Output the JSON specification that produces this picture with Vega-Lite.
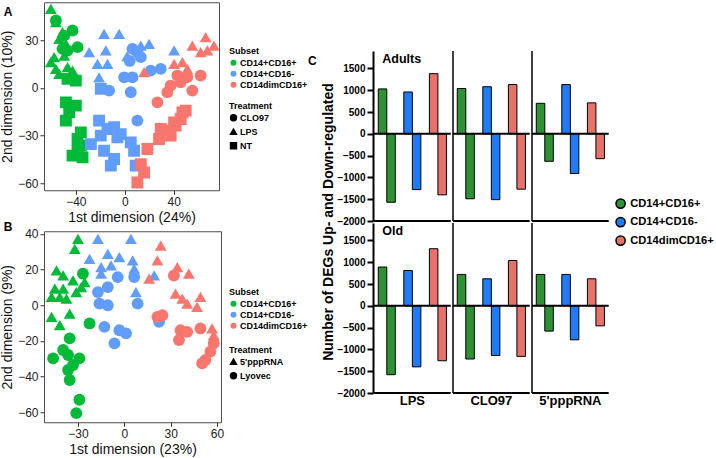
{
 "$schema": "https://vega.github.io/schema/vega-lite/v6.json",
 "padding": {"left": 0, "top": 1, "right": 0, "bottom": 0},
 "background": "white",
 "center": true,
 "spacing": -2,
 "resolve": {"scale": {"color": "independent", "shape": "independent"}},
 "datasets": {
  "pcaA": [
   {"x":-60.4,"y":49.9,"subset":"CD14+CD16+","treatment":"LPS"},{"x":-56.3,"y":41.5,"subset":"CD14+CD16+","treatment":"LPS"},{"x":-50.9,"y":35.2,"subset":"CD14+CD16+","treatment":"LPS"},{"x":-53.6,"y":30.9,"subset":"CD14+CD16+","treatment":"LPS"},{"x":-48.1,"y":27.8,"subset":"CD14+CD16+","treatment":"LPS"},{"x":-57.7,"y":19.4,"subset":"CD14+CD16+","treatment":"LPS"},{"x":-49.5,"y":20.4,"subset":"CD14+CD16+","treatment":"LPS"},{"x":-56.3,"y":12.0,"subset":"CD14+CD16+","treatment":"LPS"},{"x":-46.8,"y":13.1,"subset":"CD14+CD16+","treatment":"LPS"},{"x":-53.6,"y":8.8,"subset":"CD14+CD16+","treatment":"LPS"},{"x":-42.7,"y":10.9,"subset":"CD14+CD16+","treatment":"LPS"},{"x":-60.4,"y":16.2,"subset":"CD14+CD16+","treatment":"LPS"},
   {"x":-56.3,"y":42.5,"subset":"CD14+CD16+","treatment":"CLO97"},{"x":-42.7,"y":36.2,"subset":"CD14+CD16+","treatment":"CLO97"},{"x":-49.5,"y":33.0,"subset":"CD14+CD16+","treatment":"CLO97"},{"x":-38.6,"y":25.7,"subset":"CD14+CD16+","treatment":"CLO97"},{"x":-46.8,"y":23.6,"subset":"CD14+CD16+","treatment":"CLO97"},{"x":-50.9,"y":24.6,"subset":"CD14+CD16+","treatment":"CLO97"},
   {"x":-40.0,"y":4.6,"subset":"CD14+CD16+","treatment":"NT"},{"x":-46.8,"y":5.7,"subset":"CD14+CD16+","treatment":"NT"},{"x":-48.1,"y":-9.1,"subset":"CD14+CD16+","treatment":"NT"},{"x":-40.0,"y":-11.2,"subset":"CD14+CD16+","treatment":"NT"},{"x":-45.4,"y":-15.4,"subset":"CD14+CD16+","treatment":"NT"},{"x":-48.1,"y":-20.6,"subset":"CD14+CD16+","treatment":"NT"},{"x":-35.9,"y":-28.0,"subset":"CD14+CD16+","treatment":"NT"},{"x":-38.6,"y":-32.2,"subset":"CD14+CD16+","treatment":"NT"},{"x":-35.9,"y":-36.4,"subset":"CD14+CD16+","treatment":"NT"},{"x":-42.7,"y":-42.7,"subset":"CD14+CD16+","treatment":"NT"},{"x":-34.5,"y":-43.8,"subset":"CD14+CD16+","treatment":"NT"},{"x":-38.6,"y":-39.6,"subset":"CD14+CD16+","treatment":"NT"},
   {"x":-16.9,"y":34.1,"subset":"CD14+CD16-","treatment":"LPS"},{"x":-4.6,"y":34.1,"subset":"CD14+CD16-","treatment":"LPS"},{"x":-29.1,"y":22.5,"subset":"CD14+CD16-","treatment":"LPS"},{"x":-15.5,"y":23.6,"subset":"CD14+CD16-","treatment":"LPS"},{"x":-22.3,"y":15.2,"subset":"CD14+CD16-","treatment":"LPS"},{"x":-14.1,"y":15.2,"subset":"CD14+CD16-","treatment":"LPS"},{"x":-21.0,"y":6.7,"subset":"CD14+CD16-","treatment":"LPS"},{"x":13.1,"y":26.7,"subset":"CD14+CD16-","treatment":"LPS"},{"x":19.9,"y":27.8,"subset":"CD14+CD16-","treatment":"LPS"},{"x":40.3,"y":23.6,"subset":"CD14+CD16-","treatment":"LPS"},{"x":2.0,"y":20.0,"subset":"CD14+CD16-","treatment":"LPS"},
   {"x":6.3,"y":24.6,"subset":"CD14+CD16-","treatment":"CLO97"},{"x":10.3,"y":22.5,"subset":"CD14+CD16-","treatment":"CLO97"},{"x":13.1,"y":19.4,"subset":"CD14+CD16-","treatment":"CLO97"},{"x":4.0,"y":17.0,"subset":"CD14+CD16-","treatment":"CLO97"},{"x":-0.5,"y":6.7,"subset":"CD14+CD16-","treatment":"CLO97"},{"x":6.3,"y":6.7,"subset":"CD14+CD16-","treatment":"CLO97"},{"x":21.2,"y":10.9,"subset":"CD14+CD16-","treatment":"CLO97"},{"x":29.4,"y":12.0,"subset":"CD14+CD16-","treatment":"CLO97"},{"x":-12.8,"y":-1.7,"subset":"CD14+CD16-","treatment":"CLO97"},{"x":4.9,"y":-2.7,"subset":"CD14+CD16-","treatment":"CLO97"},{"x":10.3,"y":-20.6,"subset":"CD14+CD16-","treatment":"CLO97"},
   {"x":-19.6,"y":-0.6,"subset":"CD14+CD16-","treatment":"NT"},{"x":-21.0,"y":-20.6,"subset":"CD14+CD16-","treatment":"NT"},{"x":-8.7,"y":-24.8,"subset":"CD14+CD16-","treatment":"NT"},{"x":-6.0,"y":-31.2,"subset":"CD14+CD16-","treatment":"NT"},{"x":-19.6,"y":-30.1,"subset":"CD14+CD16-","treatment":"NT"},{"x":-27.7,"y":-35.4,"subset":"CD14+CD16-","treatment":"NT"},{"x":-16.9,"y":-39.6,"subset":"CD14+CD16-","treatment":"NT"},{"x":-8.7,"y":-44.8,"subset":"CD14+CD16-","treatment":"NT"},{"x":-11.4,"y":-49.0,"subset":"CD14+CD16-","treatment":"NT"},{"x":7.6,"y":-39.6,"subset":"CD14+CD16-","treatment":"NT"},{"x":4.9,"y":-34.3,"subset":"CD14+CD16-","treatment":"NT"},{"x":8.9,"y":-49.0,"subset":"CD14+CD16-","treatment":"NT"},{"x":-3.3,"y":-29.1,"subset":"CD14+CD16-","treatment":"NT"},{"x":-14.1,"y":-25.9,"subset":"CD14+CD16-","treatment":"NT"},
   {"x":66.1,"y":32.0,"subset":"CD14dimCD16+","treatment":"LPS"},{"x":72.9,"y":26.7,"subset":"CD14dimCD16+","treatment":"LPS"},{"x":62.0,"y":22.5,"subset":"CD14dimCD16+","treatment":"LPS"},{"x":55.2,"y":26.7,"subset":"CD14dimCD16+","treatment":"LPS"},{"x":47.1,"y":16.2,"subset":"CD14dimCD16+","treatment":"LPS"},{"x":51.1,"y":12.0,"subset":"CD14dimCD16+","treatment":"LPS"},{"x":15.8,"y":9.9,"subset":"CD14dimCD16+","treatment":"LPS"},{"x":40.3,"y":15.2,"subset":"CD14dimCD16+","treatment":"LPS"},{"x":67.5,"y":23.6,"subset":"CD14dimCD16+","treatment":"LPS"},
   {"x":37.5,"y":1.5,"subset":"CD14dimCD16+","treatment":"CLO97"},{"x":45.7,"y":3.6,"subset":"CD14dimCD16+","treatment":"CLO97"},{"x":55.2,"y":-1.7,"subset":"CD14dimCD16+","treatment":"CLO97"},{"x":26.7,"y":-9.1,"subset":"CD14dimCD16+","treatment":"CLO97"},{"x":62.0,"y":7.8,"subset":"CD14dimCD16+","treatment":"CLO97"},{"x":34.8,"y":-2.7,"subset":"CD14dimCD16+","treatment":"CLO97"},{"x":43.0,"y":7.8,"subset":"CD14dimCD16+","treatment":"CLO97"},{"x":51.1,"y":6.7,"subset":"CD14dimCD16+","treatment":"CLO97"},
   {"x":49.8,"y":-14.3,"subset":"CD14dimCD16+","treatment":"NT"},{"x":45.7,"y":-19.6,"subset":"CD14dimCD16+","treatment":"NT"},{"x":41.6,"y":-23.8,"subset":"CD14dimCD16+","treatment":"NT"},{"x":34.8,"y":-26.9,"subset":"CD14dimCD16+","treatment":"NT"},{"x":28.0,"y":-32.2,"subset":"CD14dimCD16+","treatment":"NT"},{"x":18.5,"y":-38.5,"subset":"CD14dimCD16+","treatment":"NT"},{"x":13.1,"y":-48.0,"subset":"CD14dimCD16+","treatment":"NT"},{"x":10.3,"y":-59.6,"subset":"CD14dimCD16+","treatment":"NT"},{"x":29.4,"y":-25.9,"subset":"CD14dimCD16+","treatment":"NT"},{"x":37.5,"y":-30.1,"subset":"CD14dimCD16+","treatment":"NT"},{"x":47.1,"y":-15.4,"subset":"CD14dimCD16+","treatment":"NT"},{"x":40.3,"y":-21.7,"subset":"CD14dimCD16+","treatment":"NT"},{"x":15.8,"y":-53.3,"subset":"CD14dimCD16+","treatment":"NT"}
  ],
  "pcaB": [
   {"x":-30.0,"y":37.2,"subset":"CD14+CD16+","treatment":"5'pppRNA"},{"x":-32.1,"y":31.6,"subset":"CD14+CD16+","treatment":"5'pppRNA"},{"x":-43.9,"y":19.5,"subset":"CD14+CD16+","treatment":"5'pppRNA"},{"x":-39.6,"y":16.7,"subset":"CD14+CD16+","treatment":"5'pppRNA"},{"x":-33.2,"y":14.0,"subset":"CD14+CD16+","treatment":"5'pppRNA"},{"x":-25.7,"y":13.0,"subset":"CD14+CD16+","treatment":"5'pppRNA"},{"x":-45.0,"y":9.3,"subset":"CD14+CD16+","treatment":"5'pppRNA"},{"x":-39.6,"y":9.3,"subset":"CD14+CD16+","treatment":"5'pppRNA"},{"x":-31.1,"y":7.4,"subset":"CD14+CD16+","treatment":"5'pppRNA"},{"x":-47.1,"y":4.7,"subset":"CD14+CD16+","treatment":"5'pppRNA"},{"x":-41.8,"y":4.7,"subset":"CD14+CD16+","treatment":"5'pppRNA"},{"x":-37.5,"y":3.7,"subset":"CD14+CD16+","treatment":"5'pppRNA"},{"x":-47.1,"y":-6.5,"subset":"CD14+CD16+","treatment":"5'pppRNA"},{"x":-41.8,"y":-11.2,"subset":"CD14+CD16+","treatment":"5'pppRNA"},{"x":-35.4,"y":-4.7,"subset":"CD14+CD16+","treatment":"5'pppRNA"},{"x":-27.9,"y":10.2,"subset":"CD14+CD16+","treatment":"5'pppRNA"},
   {"x":-26.8,"y":17.7,"subset":"CD14+CD16+","treatment":"Lyovec"},{"x":-22.5,"y":-10.2,"subset":"CD14+CD16+","treatment":"Lyovec"},{"x":-35.4,"y":-18.6,"subset":"CD14+CD16+","treatment":"Lyovec"},{"x":-39.6,"y":-25.1,"subset":"CD14+CD16+","treatment":"Lyovec"},{"x":-46.1,"y":-29.8,"subset":"CD14+CD16+","treatment":"Lyovec"},{"x":-36.4,"y":-27.9,"subset":"CD14+CD16+","treatment":"Lyovec"},{"x":-29.1,"y":-29.8,"subset":"CD14+CD16+","treatment":"Lyovec"},{"x":-36.4,"y":-36.3,"subset":"CD14+CD16+","treatment":"Lyovec"},{"x":-35.4,"y":-41.9,"subset":"CD14+CD16+","treatment":"Lyovec"},{"x":-29.1,"y":-53.0,"subset":"CD14+CD16+","treatment":"Lyovec"},{"x":-31.1,"y":-60.5,"subset":"CD14+CD16+","treatment":"Lyovec"},{"x":-33.2,"y":-33.5,"subset":"CD14+CD16+","treatment":"Lyovec"},
   {"x":-17.1,"y":37.2,"subset":"CD14+CD16-","treatment":"5'pppRNA"},{"x":4.3,"y":37.2,"subset":"CD14+CD16-","treatment":"5'pppRNA"},{"x":-22.5,"y":26.0,"subset":"CD14+CD16-","treatment":"5'pppRNA"},{"x":-10.7,"y":28.8,"subset":"CD14+CD16-","treatment":"5'pppRNA"},{"x":-3.2,"y":27.0,"subset":"CD14+CD16-","treatment":"5'pppRNA"},{"x":-15.0,"y":21.4,"subset":"CD14+CD16-","treatment":"5'pppRNA"},{"x":-8.6,"y":22.3,"subset":"CD14+CD16-","treatment":"5'pppRNA"},{"x":5.4,"y":25.1,"subset":"CD14+CD16-","treatment":"5'pppRNA"},{"x":6.4,"y":20.5,"subset":"CD14+CD16-","treatment":"5'pppRNA"},{"x":7.5,"y":7.4,"subset":"CD14+CD16-","treatment":"5'pppRNA"},{"x":19.3,"y":16.7,"subset":"CD14+CD16-","treatment":"5'pppRNA"},{"x":-15.0,"y":17.7,"subset":"CD14+CD16-","treatment":"5'pppRNA"},
   {"x":-17.1,"y":7.4,"subset":"CD14+CD16-","treatment":"Lyovec"},{"x":-10.7,"y":10.2,"subset":"CD14+CD16-","treatment":"Lyovec"},{"x":-16.1,"y":0.9,"subset":"CD14+CD16-","treatment":"Lyovec"},{"x":-10.7,"y":0.0,"subset":"CD14+CD16-","treatment":"Lyovec"},{"x":-4.3,"y":15.8,"subset":"CD14+CD16-","treatment":"Lyovec"},{"x":-12.9,"y":-12.1,"subset":"CD14+CD16-","treatment":"Lyovec"},{"x":-3.2,"y":-14.0,"subset":"CD14+CD16-","treatment":"Lyovec"},{"x":1.1,"y":-15.8,"subset":"CD14+CD16-","treatment":"Lyovec"},{"x":-6.4,"y":-21.4,"subset":"CD14+CD16-","treatment":"Lyovec"},{"x":8.6,"y":0.9,"subset":"CD14+CD16-","treatment":"Lyovec"},{"x":6.4,"y":15.8,"subset":"CD14+CD16-","treatment":"Lyovec"},{"x":22.5,"y":-9.3,"subset":"CD14+CD16-","treatment":"Lyovec"},
   {"x":23.6,"y":33.5,"subset":"CD14dimCD16+","treatment":"5'pppRNA"},{"x":21.4,"y":25.1,"subset":"CD14dimCD16+","treatment":"5'pppRNA"},{"x":16.1,"y":14.9,"subset":"CD14dimCD16+","treatment":"5'pppRNA"},{"x":34.3,"y":21.4,"subset":"CD14dimCD16+","treatment":"5'pppRNA"},{"x":41.8,"y":17.7,"subset":"CD14dimCD16+","treatment":"5'pppRNA"},{"x":33.2,"y":6.5,"subset":"CD14dimCD16+","treatment":"5'pppRNA"},{"x":37.5,"y":3.7,"subset":"CD14dimCD16+","treatment":"5'pppRNA"},{"x":49.3,"y":4.7,"subset":"CD14dimCD16+","treatment":"5'pppRNA"},{"x":47.1,"y":-0.9,"subset":"CD14dimCD16+","treatment":"5'pppRNA"},{"x":56.8,"y":-13.0,"subset":"CD14dimCD16+","treatment":"5'pppRNA"},{"x":57.9,"y":-16.7,"subset":"CD14dimCD16+","treatment":"5'pppRNA"},{"x":40.7,"y":0.9,"subset":"CD14dimCD16+","treatment":"5'pppRNA"},
   {"x":32.1,"y":16.7,"subset":"CD14dimCD16+","treatment":"Lyovec"},{"x":21.4,"y":-6.5,"subset":"CD14dimCD16+","treatment":"Lyovec"},{"x":24.6,"y":-5.6,"subset":"CD14dimCD16+","treatment":"Lyovec"},{"x":36.4,"y":-14.0,"subset":"CD14dimCD16+","treatment":"Lyovec"},{"x":40.7,"y":-14.9,"subset":"CD14dimCD16+","treatment":"Lyovec"},{"x":35.4,"y":-19.5,"subset":"CD14dimCD16+","treatment":"Lyovec"},{"x":49.3,"y":-13.0,"subset":"CD14dimCD16+","treatment":"Lyovec"},{"x":57.9,"y":-21.4,"subset":"CD14dimCD16+","treatment":"Lyovec"},{"x":55.7,"y":-26.0,"subset":"CD14dimCD16+","treatment":"Lyovec"},{"x":52.5,"y":-30.7,"subset":"CD14dimCD16+","treatment":"Lyovec"},{"x":50.4,"y":-32.6,"subset":"CD14dimCD16+","treatment":"Lyovec"}
  ],
  "degs": [
   {"age":"Adults","treatment":"LPS","subset":"CD14+CD16+","direction":"up","value":1030},{"age":"Adults","treatment":"LPS","subset":"CD14+CD16+","direction":"down","value":-1570},
   {"age":"Adults","treatment":"LPS","subset":"CD14+CD16-","direction":"up","value":960},{"age":"Adults","treatment":"LPS","subset":"CD14+CD16-","direction":"down","value":-1280},
   {"age":"Adults","treatment":"LPS","subset":"CD14dimCD16+","direction":"up","value":1380},{"age":"Adults","treatment":"LPS","subset":"CD14dimCD16+","direction":"down","value":-1400},
   {"age":"Adults","treatment":"CLO97","subset":"CD14+CD16+","direction":"up","value":1040},{"age":"Adults","treatment":"CLO97","subset":"CD14+CD16+","direction":"down","value":-1490},
   {"age":"Adults","treatment":"CLO97","subset":"CD14+CD16-","direction":"up","value":1080},{"age":"Adults","treatment":"CLO97","subset":"CD14+CD16-","direction":"down","value":-1510},
   {"age":"Adults","treatment":"CLO97","subset":"CD14dimCD16+","direction":"up","value":1130},{"age":"Adults","treatment":"CLO97","subset":"CD14dimCD16+","direction":"down","value":-1270},
   {"age":"Adults","treatment":"5'pppRNA","subset":"CD14+CD16+","direction":"up","value":700},{"age":"Adults","treatment":"5'pppRNA","subset":"CD14+CD16+","direction":"down","value":-630},
   {"age":"Adults","treatment":"5'pppRNA","subset":"CD14+CD16-","direction":"up","value":1130},{"age":"Adults","treatment":"5'pppRNA","subset":"CD14+CD16-","direction":"down","value":-910},
   {"age":"Adults","treatment":"5'pppRNA","subset":"CD14dimCD16+","direction":"up","value":710},{"age":"Adults","treatment":"5'pppRNA","subset":"CD14dimCD16+","direction":"down","value":-570},
   {"age":"Old","treatment":"LPS","subset":"CD14+CD16+","direction":"up","value":890},{"age":"Old","treatment":"LPS","subset":"CD14+CD16+","direction":"down","value":-1580},
   {"age":"Old","treatment":"LPS","subset":"CD14+CD16-","direction":"up","value":810},{"age":"Old","treatment":"LPS","subset":"CD14+CD16-","direction":"down","value":-1400},
   {"age":"Old","treatment":"LPS","subset":"CD14dimCD16+","direction":"up","value":1310},{"age":"Old","treatment":"LPS","subset":"CD14dimCD16+","direction":"down","value":-1260},
   {"age":"Old","treatment":"CLO97","subset":"CD14+CD16+","direction":"up","value":720},{"age":"Old","treatment":"CLO97","subset":"CD14+CD16+","direction":"down","value":-1220},
   {"age":"Old","treatment":"CLO97","subset":"CD14+CD16-","direction":"up","value":620},{"age":"Old","treatment":"CLO97","subset":"CD14+CD16-","direction":"down","value":-1140},
   {"age":"Old","treatment":"CLO97","subset":"CD14dimCD16+","direction":"up","value":1040},{"age":"Old","treatment":"CLO97","subset":"CD14dimCD16+","direction":"down","value":-1160},
   {"age":"Old","treatment":"5'pppRNA","subset":"CD14+CD16+","direction":"up","value":720},{"age":"Old","treatment":"5'pppRNA","subset":"CD14+CD16+","direction":"down","value":-580},
   {"age":"Old","treatment":"5'pppRNA","subset":"CD14+CD16-","direction":"up","value":720},{"age":"Old","treatment":"5'pppRNA","subset":"CD14+CD16-","direction":"down","value":-780},
   {"age":"Old","treatment":"5'pppRNA","subset":"CD14dimCD16+","direction":"up","value":620},{"age":"Old","treatment":"5'pppRNA","subset":"CD14dimCD16+","direction":"down","value":-460}
  ]
 },
 "hconcat": [
  {
   "spacing": -5,
   "resolve": {"scale": {"color": "independent", "shape": "independent"}},
   "vconcat": [
    {
     "width": 175, "height": 188,
     "data": {"name": "pcaA"},
     "title": {"text": "A", "anchor": "start", "offset": -17, "dx": 3, "fontSize": 12, "fontWeight": "bold"},
     "view": {"stroke": "#4d4d4d", "strokeWidth": 1},
     "mark": {"type": "point", "filled": true, "size": 140, "opacity": 1, "clip": true},
     "encoding": {
      "x": {"field": "x", "type": "quantitative", "scale": {"domain": [-66, 77], "nice": false, "zero": false}, "axis": {"values": [-40, 0, 40], "title": "1st dimension (24%)"}},
      "y": {"field": "y", "type": "quantitative", "scale": {"domain": [-64.5, 54], "nice": false, "zero": false}, "axis": {"values": [-60, -30, 0, 30], "title": "2nd dimension (10%)"}},
      "color": {"field": "subset", "type": "nominal", "scale": {"domain": ["CD14+CD16+", "CD14+CD16-", "CD14dimCD16+"], "range": ["#00BA38", "#619CFF", "#F8766D"]}, "legend": {"title": "Subset", "orient": "none", "legendX": 185, "legendY": 45, "symbolType": "circle"}},
      "shape": {"field": "treatment", "type": "nominal", "scale": {"domain": ["CLO97", "LPS", "NT"], "range": ["circle", "triangle-up", "square"]}, "legend": {"title": "Treatment", "orient": "none", "legendX": 185, "legendY": 100, "symbolFillColor": "black", "symbolStrokeColor": "black"}}
     }
    },
    {
     "width": 177, "height": 191,
     "data": {"name": "pcaB"},
     "title": {"text": "B", "anchor": "start", "offset": -6, "dx": 3, "fontSize": 12, "fontWeight": "bold"},
     "view": {"stroke": "#4d4d4d", "strokeWidth": 1},
     "mark": {"type": "point", "filled": true, "size": 140, "opacity": 1, "clip": true},
     "encoding": {
      "x": {"field": "x", "type": "quantitative", "scale": {"domain": [-52, 62.6], "nice": false, "zero": false}, "axis": {"values": [-30, 0, 30, 60], "title": "1st dimension (23%)"}},
      "y": {"field": "y", "type": "quantitative", "scale": {"domain": [-65.6, 41.5], "nice": false, "zero": false}, "axis": {"values": [-60, -40, -20, 0, 20, 40], "title": "2nd dimension (9%)"}},
      "color": {"field": "subset", "type": "nominal", "scale": {"domain": ["CD14+CD16+", "CD14+CD16-", "CD14dimCD16+"], "range": ["#00BA38", "#619CFF", "#F8766D"]}, "legend": {"title": "Subset", "orient": "none", "legendX": 185, "legendY": 57, "symbolType": "circle"}},
      "shape": {"field": "treatment", "type": "nominal", "scale": {"domain": ["5'pppRNA", "Lyovec"], "range": ["triangle-up", "circle"]}, "legend": {"title": "Treatment", "orient": "none", "legendX": 185, "legendY": 115, "symbolFillColor": "black", "symbolStrokeColor": "black"}}
     }
    }
   ]
  },
  {
   "data": {"name": "degs"},
   "title": {"text": "C", "anchor": "start", "offset": -18, "dx": -14, "fontSize": 12, "fontWeight": "bold"},
   "facet": {
    "row": {"field": "age", "type": "nominal", "sort": ["Adults", "Old"], "header": {"title": "Number of DEGs Up- and Down-regulated", "labels": false, "titleFontSize": 14, "titleFontWeight": "bold", "titleColor": "black", "titlePadding": -10}},
    "column": {"field": "treatment", "type": "nominal", "sort": ["LPS", "CLO97", "5'pppRNA"], "header": {"title": null, "labelOrient": "bottom", "labelFontSize": 13, "labelFontWeight": "bold", "labelColor": "black", "labelPadding": 1}}
   },
   "spacing": {"row": 0, "column": 0},
   "spec": {
    "width": 76.7, "height": 170,
    "view": {"stroke": null},
    "encoding": {
     "x": {"field": "subset", "type": "nominal", "scale": {"domain": ["CD14+CD16+", "CD14+CD16-", "CD14dimCD16+"], "paddingInner": 0.3333333, "paddingOuter": 0.1666667}, "axis": null}
    },
    "layer": [
     {
      "mark": {"type": "bar", "stroke": "black", "strokeWidth": 1},
      "encoding": {
       "xOffset": {"field": "direction", "type": "nominal", "scale": {"domain": ["up", "down"], "paddingInner": 0, "paddingOuter": 0}},
       "y": {"field": "value", "type": "quantitative", "scale": {"domain": [-2000, 1900], "nice": false, "zero": false}, "axis": {"values": [-2000, -1500, -1000, -500, 0, 500, 1000, 1500], "format": "d", "title": null, "grid": false, "domain": true, "domainColor": "black", "domainWidth": 2, "tickColor": "black", "tickWidth": 2, "tickSize": 6, "labelFontSize": 10, "labelFontWeight": "bold", "labelColor": "black", "labelPadding": 2, "labelOverlap": false, "labelBound": false, "labelFlush": false}},
       "color": {"field": "subset", "type": "nominal", "scale": {"domain": ["CD14+CD16+", "CD14+CD16-", "CD14dimCD16+"], "range": ["#2E9134", "#1F7CF8", "#E8716B"]}, "legend": {"title": null, "orient": "none", "legendX": 241, "legendY": 147, "symbolType": "circle", "symbolSize": 85, "symbolStrokeColor": "black", "symbolStrokeWidth": 1.5, "labelFontSize": 11.2, "labelFontWeight": "bold", "rowPadding": 1.5, "labelOffset": 4}}
      }
     },
     {
      "transform": [{"filter": "datum.treatment !== 'LPS' && datum.subset === 'CD14+CD16+' && datum.direction === 'up'"}],
      "mark": {"type": "rule", "color": "black", "strokeWidth": 1.5},
      "encoding": {"x": {"field": "subset", "type": "nominal", "bandPosition": -0.25}}
     },
     {
      "transform": [{"filter": "datum.subset === 'CD14+CD16+' && datum.direction === 'up'"}],
      "mark": {"type": "rule", "color": "black", "strokeWidth": 2},
      "encoding": {"x": null, "y": {"datum": 0, "type": "quantitative", "axis": {"values": [-2000, -1500, -1000, -500, 0, 500, 1000, 1500], "format": "d", "title": null, "grid": false, "domain": true, "domainColor": "black", "domainWidth": 2, "tickColor": "black", "tickWidth": 2, "tickSize": 6, "labelFontSize": 10, "labelFontWeight": "bold", "labelColor": "black", "labelPadding": 2, "labelOverlap": false, "labelBound": false, "labelFlush": false}}}
     },
     {
      "transform": [{"filter": "datum.subset === 'CD14+CD16+' && datum.direction === 'up'"}],
      "mark": {"type": "rule", "color": "black", "strokeWidth": 2},
      "encoding": {"x": null, "y": {"datum": -2000, "type": "quantitative", "axis": {"values": [-2000, -1500, -1000, -500, 0, 500, 1000, 1500], "format": "d", "title": null, "grid": false, "domain": true, "domainColor": "black", "domainWidth": 2, "tickColor": "black", "tickWidth": 2, "tickSize": 6, "labelFontSize": 10, "labelFontWeight": "bold", "labelColor": "black", "labelPadding": 2, "labelOverlap": false, "labelBound": false, "labelFlush": false}}}
     },
     {
      "transform": [{"filter": "datum.treatment === 'LPS' && datum.subset === 'CD14+CD16+' && datum.direction === 'up'"}],
      "mark": {"type": "text", "align": "left", "baseline": "top", "dx": 4, "dy": 2, "fontSize": 12.5, "fontWeight": "bold", "color": "black"},
      "encoding": {
       "x": {"field": "subset", "type": "nominal", "bandPosition": 0},
       "y": {"datum": 1900, "type": "quantitative", "axis": {"values": [-2000, -1500, -1000, -500, 0, 500, 1000, 1500], "format": "d", "title": null, "grid": false, "domain": true, "domainColor": "black", "domainWidth": 2, "tickColor": "black", "tickWidth": 2, "tickSize": 6, "labelFontSize": 10, "labelFontWeight": "bold", "labelColor": "black", "labelPadding": 2, "labelOverlap": false, "labelBound": false, "labelFlush": false}},
       "text": {"field": "age"}
      }
     }
    ]
   }
  }
 ],
 "config": {
  "font": "Liberation Sans",
  "view": {"stroke": null},
  "title": {"font": "Liberation Sans", "color": "black"},
  "header": {"labelFont": "Liberation Sans", "titleFont": "Liberation Sans"},
  "axis": {"grid": false, "domain": false, "tickColor": "#333333", "tickSize": 4, "labelFont": "Liberation Sans", "labelFontSize": 12, "labelColor": "#222222", "labelPadding": 2, "titleFont": "Liberation Sans", "titleFontSize": 14, "titleFontWeight": "normal", "titleColor": "#111111", "titlePadding": 3},
  "legend": {"labelFont": "Liberation Sans", "titleFont": "Liberation Sans", "titleFontSize": 9, "titleFontWeight": "bold", "titleColor": "black", "labelFontSize": 9, "labelFontWeight": "bold", "labelColor": "black", "symbolSize": 35, "rowPadding": 1, "titlePadding": 2, "labelOffset": 2, "padding": 0}
 }
}
